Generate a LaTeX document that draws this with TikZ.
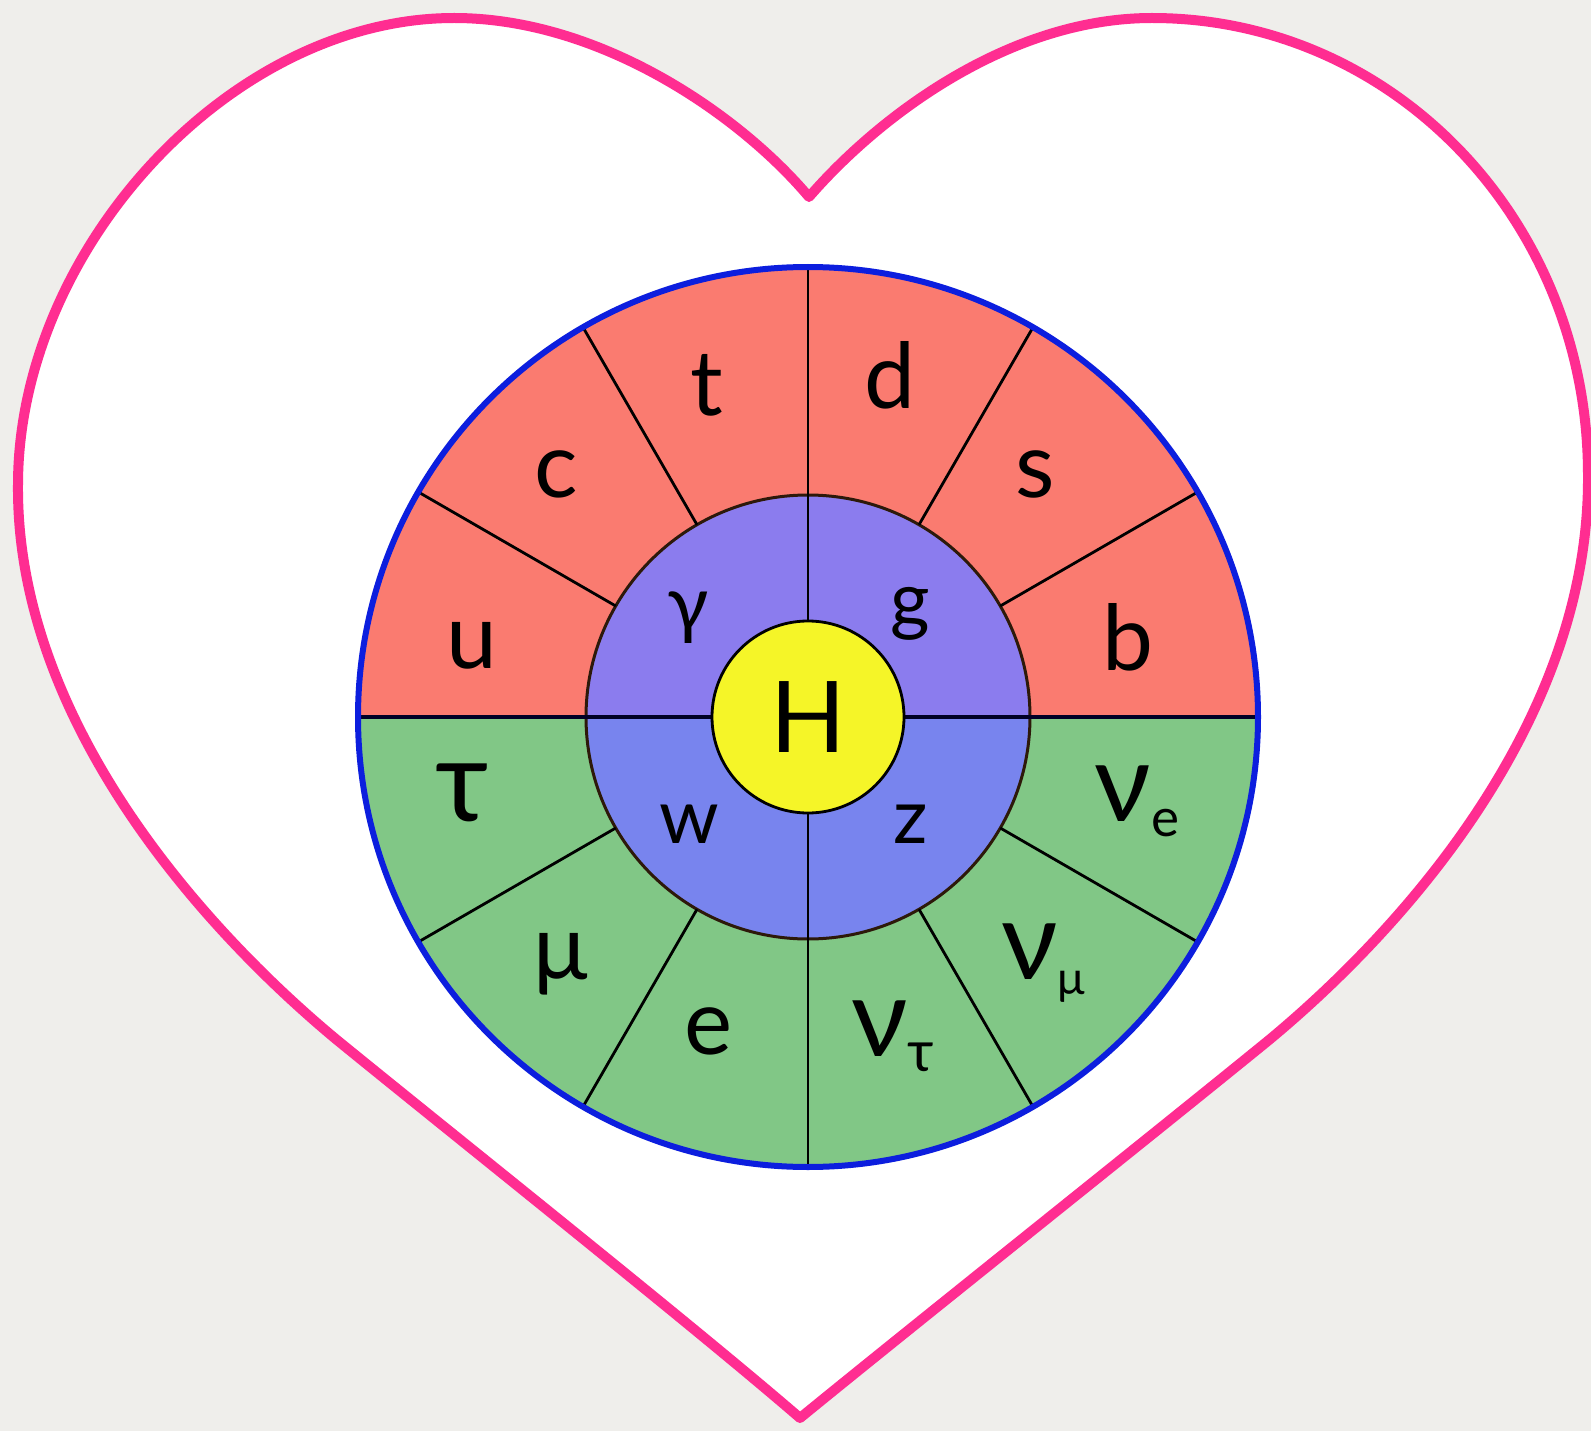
\documentclass[tikz,border=0pt]{standalone}
\usepackage{fontspec}
\setmainfont{Lato}
\definecolor{bg}{RGB}{239,238,235}
\definecolor{heartpink}{RGB}{255,45,145}
\definecolor{salmon}{RGB}{250,123,112}
\definecolor{leafgreen}{RGB}{129,199,134}
\definecolor{purptop}{RGB}{139,124,238}
\definecolor{bluebot}{RGB}{120,132,238}
\definecolor{hyellow}{RGB}{245,245,40}
\definecolor{outerblue}{RGB}{12,30,222}
\definecolor{ringbrown}{RGB}{45,25,10}
\begin{document}
\begin{tikzpicture}[x=1pt,y=-1pt,
  lab/.style={font=\fontsize{91}{91}\selectfont, inner sep=0pt},
  labs/.style={font=\fontsize{76}{76}\selectfont, inner sep=0pt},
  nulab/.style={font=\fontsize{110}{110}\selectfont, inner sep=0pt},
  divider/.style={line width=2.8pt, black},
]
\useasboundingbox (0,0) rectangle (1591,1431);
\fill[bg] (0,0) rectangle (1591,1431);
% heart
\filldraw[fill=white, draw=heartpink, line width=10pt, line join=round]
  (809,197) .. controls (740,115) and (600,18) .. (454,18)
  .. controls (230,18) and (18,250) .. (18,485)
  .. controls (16,720) and (202,928) .. (337,1040)
  .. controls (456,1137) and (696,1328) .. (800,1418)
  .. controls (910,1328) and (1150,1137) .. (1269,1040)
  .. controls (1404,928) and (1590,720) .. (1588,475)
  .. controls (1588,220) and (1393,18) .. (1152,18)
  .. controls (1010,18) and (880,115) .. (809,197) -- cycle;
\coordinate (C) at (808,717);
% outer ring halves
\fill[salmon] (C) -- ++(0:450pt) arc[start angle=0,end angle=180,radius=450pt] -- cycle;
\fill[leafgreen] (C) -- ++(180:450pt) arc[start angle=180,end angle=360,radius=450pt] -- cycle;
% middle ring halves
\fill[purptop] (C) -- ++(0:222pt) arc[start angle=0,end angle=180,radius=222pt] -- cycle;
\fill[bluebot] (C) -- ++(180:222pt) arc[start angle=180,end angle=360,radius=222pt] -- cycle;
\draw[line width=3pt, ringbrown] (C) circle[radius=222pt];
% radial dividers
\foreach \a in {30,60,120,150,210,240,300,330}
  \draw[divider] ([shift={(\a:222pt)}]C) -- ([shift={(\a:450pt)}]C);
\draw[line width=3.5pt, black!85!blue] ([shift={(180:450pt)}]C) -- ([shift={(0:450pt)}]C);
\draw[divider] ([shift={(90:450pt)}]C) -- ([shift={(270:450pt)}]C);
% centre
\node[circle, fill=hyellow, draw=black, line width=2.8pt, minimum size=192pt, inner sep=0pt, font=\fontsize{99}{99}\selectfont] (H) at (C) {H};
\draw[line width=6pt, outerblue] (C) circle[radius=450pt];
% quark labels
\node[lab] (u) at (472,646) {u};
\node[lab] (c) at (556,474) {c};
\node[lab] (t) at (707,385) {t};
\node[lab] (d) at (890,375) {d};
\node[lab] (s) at (1035,474) {s};
\node[lab] (b) at (1128,637) {b};
% boson labels
\node[labs] (gamma) at (688,618) {γ};
\node[labs] (g) at (910,614) {g};
\node[labs] (w) at (689,824) {w};
\node[labs] (z) at (911,824) {z};
% lepton labels
\node[lab, font=\fontsize{115}{115}\selectfont] (tau) at (462,793) {τ};
\node[lab] (mu) at (561,964) {μ};
\node[lab] (e) at (709,1031) {e};
\node[nulab] (nue) at (1137,801) {ν\raisebox{-15pt}{\fontsize{53}{53}\selectfont e}};
\node[nulab] (numu) at (1043,963) {ν\raisebox{-15pt}{\fontsize{46}{46}\selectfont μ}};
\node[nulab] (nutau) at (893,1036) {ν\raisebox{-15pt}{\fontsize{57}{57}\selectfont τ}};
\end{tikzpicture}
\end{document}
